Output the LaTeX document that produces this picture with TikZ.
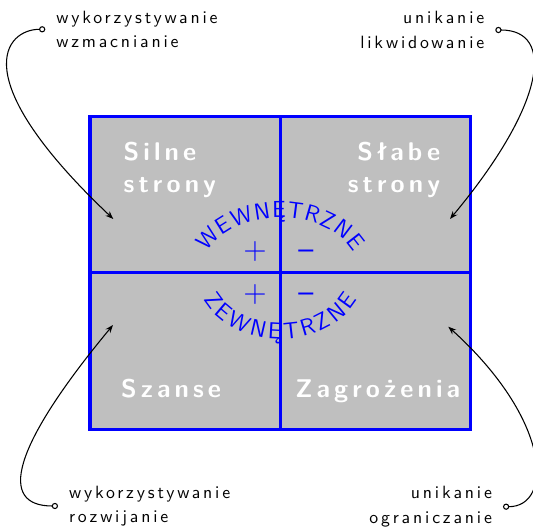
\documentclass[tikz,border=0pt]{standalone}
\usepackage{fontspec}
\usepackage{tikz}
\usetikzlibrary{arrows.meta,decorations.text}
\newfontfamily\lblfont{lmsans10-regular.otf}[LetterSpace=16]
\newfontfamily\quadfont{lmsans10-bold.otf}[LetterSpace=16]

\begin{document}
\begin{tikzpicture}[x=0.5625pt, y=0.5625pt,
    grid/.style={draw=blue, line width=1.8pt},
    quad/.style={text=white, inner sep=0pt, font=\quadfont\Large, align=left},
    lbl/.style={font=\lblfont\fontsize{10}{13.7}\selectfont, inner xsep=6pt, inner ysep=0pt},
    sign/.style={text=blue, inner sep=0pt, anchor=base, font=\sffamily\fontsize{18}{18}\selectfont},
    arcword/.style={decorate, decoration={text along path, text align=fit to path, text color=blue}},
    conn/.style={{Circle[open,length=3.5pt]}-{Stealth[length=4.5pt]}, semithick}
]
\useasboundingbox (0,0) rectangle (533,528);

\coordinate (sw) at (90,98.5);
\coordinate (ne) at (470.5,411.3);
\coordinate (mid) at (280.3,255.2);

\draw[grid, fill=gray!50] (sw) rectangle (ne);
\draw[grid] (mid |- sw) -- (mid |- ne);
\draw[grid] (sw |- mid) -- (ne |- mid);

\node[quad, anchor=north west] (silne) at (123.3,386) {Silne\\strony};
\node[quad, anchor=north east, align=right] (slabe) at (440.5,386) {Słabe\\strony};
\node[quad, anchor=base west] (szanse) at (120.7,131) {Szanse};
\node[quad, anchor=base west] (zagroz) at (295,131) {Zagrożenia};

\path[arcword, decoration={text={|\sffamily\fontsize{13}{13}\selectfont|WEWNĘTRZNE}}]
    ([shift={(158:79 and 55)}]mid) arc[start angle=158, end angle=22, x radius=79, y radius=55];
\path[arcword, decoration={text={|\sffamily\fontsize{13}{13}\selectfont|ZEWNĘTRZNE}}]
    ([shift={(204:84 and 66)}]mid) arc[start angle=204, end angle=336, x radius=84, y radius=66];

\node[sign] (plusup) at (255,268.5) {+};
\node[sign] (minusup) at (306,268.5) {–};
\node[sign] (pluslow) at (255,225.3) {+};
\node[sign] (minuslow) at (306,225.3) {–};

\node[lbl, anchor=west, align=left] (lblA) at (45.3,498.7) {wykorzystywanie\\wzmacnianie};
\node[lbl, anchor=east, align=right] (lblB) at (495.3,498) {unikanie\\likwidowanie};
\node[lbl, anchor=west, align=left] (lblC) at (58,22) {wykorzystywanie\\rozwijanie};
\node[lbl, anchor=east, align=right] (lblD) at (503,21.3) {unikanie\\ograniczanie};

\coordinate (tipA) at (113.3,309);
\coordinate (tipB) at (450,309);
\coordinate (tipC) at (113,203);
\coordinate (tipD) at (448.3,201.3);

\draw[conn] (lblA.west) .. controls +(-40,0) and +(-150,142) .. (tipA);
\draw[conn] (lblB.east) .. controls +(60,0) and +(96,115) .. (tipB);
\draw[conn] (lblC.west) .. controls +(-60,0) and +(-102,-123) .. (tipC);
\draw[conn] (lblD.east) .. controls +(50,0) and +(104,-94) .. (tipD);
\end{tikzpicture}
\end{document}
